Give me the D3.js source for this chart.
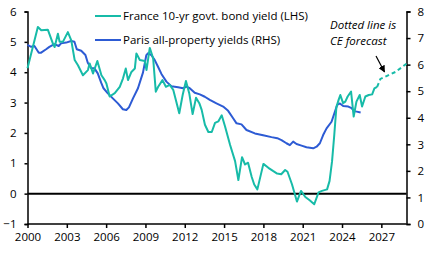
<!DOCTYPE html>
<html lang="en">
<head>
<meta charset="utf-8">
<script src="https://cdn.jsdelivr.net/npm/d3@7"></script>
<style>
    body { margin: 0; background: #fff; }
    svg text { font-family: "Open Sans", sans-serif; fill: #000; }
</style>
</head>
<body>
<script>

    // France 10-yr govt. bond yield, % (LHS)
    var bondYears = [2000.0, 2000.79, 2001.05, 2001.55, 2001.94, 2002.07, 2002.32, 2002.45, 2002.7, 2003.08,
        2003.34, 2003.6, 2003.85, 2004.23, 2004.61, 2004.74, 2005.0, 2005.33, 2005.64, 2005.89,
        2006.02, 2006.27, 2006.66, 2007.04, 2007.29, 2007.5, 2007.67, 2007.93, 2008.19, 2008.31,
        2008.57, 2008.95, 2009.08, 2009.33, 2009.59, 2009.79, 2009.97, 2010.3, 2010.56, 2010.86,
        2011.12, 2011.58, 2011.84, 2012.09, 2012.34, 2012.6, 2012.86, 2013.11, 2013.29, 2013.54,
        2013.8, 2014.06, 2014.31, 2014.56, 2014.82, 2015.07, 2015.46, 2015.84, 2016.09, 2016.37,
        2016.6, 2016.83, 2017.11, 2017.3, 2017.54, 2018.0, 2018.38, 2018.76, 2019.05, 2019.36,
        2019.66, 2019.84, 2020.18, 2020.56, 2020.87, 2021.2, 2021.53, 2021.88, 2022.21, 2022.47,
        2022.86, 2023.05, 2023.24, 2023.41, 2023.57, 2023.74, 2023.87, 2024.08, 2024.25, 2024.43,
        2024.69, 2024.89, 2025.1, 2025.35, 2025.53, 2025.78, 2026.04, 2026.3, 2026.47, 2026.68];
    var bondYield = [4.13, 5.49, 5.38, 5.40, 4.94, 4.83, 5.27, 5.00, 5.00, 5.32,
        5.05, 4.40, 4.23, 3.90, 4.07, 4.29, 3.96, 4.37, 3.90, 3.74,
        3.63, 3.20, 3.31, 3.52, 3.80, 4.12, 3.74, 4.01, 4.12, 4.62,
        4.40, 4.37, 4.07, 4.80, 4.45, 3.36, 3.52, 3.74, 3.52, 3.58,
        3.42, 2.65, 3.25, 3.71, 3.31, 2.62, 3.16, 2.98, 2.76, 2.27,
        2.03, 2.03, 2.33, 2.38, 2.58, 2.22, 1.60, 1.07, 0.45, 1.20,
        0.96, 1.02, 0.55, 0.30, 0.14, 0.98, 0.85, 0.74, 0.66, 0.64,
        0.78, 0.72, 0.31, -0.26, 0.09, -0.11, -0.22, -0.35, 0.04, 0.09,
        0.14, 0.42, 1.07, 1.94, 2.85, 3.09, 3.25, 2.98, 3.03, 3.20,
        3.36, 2.54, 3.03, 3.25, 2.87, 3.20, 3.25, 3.27, 3.47, 3.52];

    // CE forecast (dotted)
    var fcstYears = [2026.68, 2026.93, 2027.44, 2028.08, 2028.92];
    var fcstYield = [3.52, 3.78, 3.88, 4.01, 4.28];

    // Paris all-property yields, % (RHS)
    var parisYears = [2000.0, 2000.28, 2000.53, 2000.86, 2001.04, 2001.42, 2001.67, 2002.05, 2002.38, 2002.56,
        2002.95, 2003.33, 2003.58, 2003.76, 2004.1, 2004.42, 2004.6, 2004.86, 2005.11, 2005.36,
        2005.62, 2005.8, 2006.13, 2006.51, 2006.9, 2007.28, 2007.54, 2007.74, 2008.05, 2008.43,
        2008.81, 2009.07, 2009.2, 2009.45, 2009.71, 2009.96, 2010.22, 2010.6, 2010.98, 2011.49,
        2011.87, 2012.13, 2012.38, 2012.76, 2013.15, 2013.53, 2013.91, 2014.42, 2014.93, 2015.31,
        2015.69, 2015.95, 2016.33, 2016.71, 2017.35, 2017.98, 2018.62, 2019.06, 2019.38, 2019.76,
        2020.02, 2020.27, 2020.53, 2020.91, 2021.29, 2021.8, 2022.06, 2022.31, 2022.56, 2022.82,
        2023.2, 2023.46, 2023.63, 2023.84, 2024.09, 2024.48, 2024.73, 2024.91, 2025.12, 2025.42];
    var parisYield = [6.74, 6.67, 6.70, 6.45, 6.45, 6.58, 6.67, 6.77, 6.70, 6.80,
        6.83, 6.89, 6.86, 6.58, 6.52, 6.36, 6.07, 5.86, 5.86, 5.67,
        5.32, 5.11, 4.92, 4.73, 4.54, 4.32, 4.29, 4.39, 4.73, 5.11,
        5.70, 6.36, 6.43, 6.36, 6.17, 5.92, 5.65, 5.36, 5.19, 5.15,
        5.11, 5.17, 5.11, 4.94, 4.88, 4.79, 4.67, 4.54, 4.42, 4.26,
        3.98, 3.79, 3.75, 3.54, 3.41, 3.34, 3.27, 3.23, 3.16, 3.04,
        2.97, 3.10, 3.01, 2.95, 2.89, 2.85, 2.91, 3.04, 3.35, 3.60,
        3.85, 4.23, 4.48, 4.54, 4.44, 4.42, 4.36, 4.25, 4.23, 4.20];

    var xTicks = [2000, 2003, 2006, 2009, 2012, 2015, 2018, 2021, 2024, 2027];
    var leftTicks = [-1, 0, 1, 2, 3, 4, 5, 6];
    var rightTicks = [0, 1, 2, 3, 4, 5, 6, 7, 8];

    var legendNames = ["France 10-yr govt. bond yield (LHS)", "Paris all-property yields (RHS)"];
    var noteLines = ["Dotted line is", "CE forecast"];

    var teal = "#17bba8",
        blue = "#2d5bd4";

    var width = 433,
        height = 254,
        plotLeft = 27.5,
        plotRight = 406.5,
        plotTop = 11.5,
        plotBottom = 224;

    var svg = d3.select("body").append("svg")
            .attr("width", width)
            .attr("height", height);

    svg.append("defs").append("marker")
            .attr("id", "arrow")
            .attr("viewBox", "0 0 10 10")
            .attr("refX", 9)
            .attr("refY", 5)
            .attr("markerWidth", 7)
            .attr("markerHeight", 7)
            .attr("markerUnits", "userSpaceOnUse")
            .attr("orient", "auto")
        .append("path")
            .attr("d", "M0,0 L10,5 L0,10 z")
            .style("fill", "#000");

    var x = d3.scaleLinear().domain([2000, 2028.92]).range([plotLeft, plotRight]);
    var yL = d3.scaleLinear().domain([-1, 6]).range([plotBottom, plotTop]);
    var yR = d3.scaleLinear().domain([0, 8]).range([plotBottom, plotTop]);

    /*
    zero line
     */
    svg.append("line")
            .attr("x1", plotLeft)
            .attr("x2", plotRight)
            .attr("y1", yL(0))
            .attr("y2", yL(0))
            .style("stroke", "#000")
            .style("stroke-width", 2);

    /*
    axes
     */
    var gLeft = svg.append("g")
            .attr("transform", "translate(" + plotLeft + ",0)")
            .call(d3.axisLeft(yL).tickValues(leftTicks).tickFormat(d3.format("d"))
                .tickSizeInner(3).tickSizeOuter(3).tickPadding(8));

    var gRight = svg.append("g")
            .attr("transform", "translate(" + plotRight + ",0)")
            .call(d3.axisRight(yR).tickValues(rightTicks).tickFormat(d3.format("d"))
                .tickSizeInner(4).tickSizeOuter(4).tickPadding(7));

    var gBottom = svg.append("g")
            .attr("transform", "translate(0," + plotBottom + ")")
            .call(d3.axisBottom(x).tickValues(xTicks).tickFormat(d3.format("d"))
                .tickSizeInner(4).tickSizeOuter(0).tickPadding(5));

    [gLeft, gRight, gBottom].forEach(function(g){
        g.selectAll("path, line").style("stroke", "#000").style("stroke-width", 1.5);
        g.selectAll("text").style("font-size", "11.5px").style("fill", "#000");
        g.select(".domain").style("fill", "none");
    });
    gBottom.select(".domain").attr("d", "M" + plotLeft + ",0H" + plotRight);

    /*
    series
     */
    var lineL = d3.line()
            .x(function(d){ return x(d[0]); })
            .y(function(d){ return yL(d[1]); });
    var lineR = d3.line()
            .x(function(d){ return x(d[0]); })
            .y(function(d){ return yR(d[1]); });

    svg.append("path")
            .datum(d3.zip(parisYears, parisYield))
            .attr("d", lineR)
            .style("fill", "none")
            .style("stroke", blue)
            .style("stroke-width", 2)
            .style("stroke-linejoin", "round");

    svg.append("path")
            .datum(d3.zip(bondYears, bondYield))
            .attr("d", lineL)
            .style("fill", "none")
            .style("stroke", teal)
            .style("stroke-width", 2)
            .style("stroke-linejoin", "round");

    svg.append("path")
            .datum(d3.zip(fcstYears, fcstYield))
            .attr("d", lineL)
            .style("fill", "none")
            .style("stroke", teal)
            .style("stroke-width", 2)
            .style("stroke-dasharray", "4,3");

    /*
    legend
     */
    var legend = svg.selectAll(".legend")
            .data(legendNames)
            .enter()
            .append("g")
            .attr("class", "legend")
            .attr("transform", function(d, i){ return "translate(95," + (16 + i * 24) + ")"; });

    legend.append("line")
            .attr("x1", 0)
            .attr("x2", 26)
            .style("stroke", function(d, i){ return i === 0 ? teal : blue; })
            .style("stroke-width", 2);

    legend.append("text")
            .attr("x", 28)
            .attr("dy", "0.35em")
            .style("font-size", "11.5px")
            .text(function(d){ return d; });

    /*
    annotation
     */
    svg.selectAll(".note")
            .data(noteLines)
            .enter()
            .append("text")
            .attr("class", "note")
            .attr("x", 330)
            .attr("y", function(d, i){ return 29 + i * 15.5; })
            .style("font-size", "11.5px")
            .style("font-style", "italic")
            .text(function(d){ return d; });

    svg.append("line")
            .attr("x1", 376)
            .attr("y1", 56)
            .attr("x2", 384.5)
            .attr("y2", 72)
            .style("stroke", "#000")
            .style("stroke-width", 1.2)
            .attr("marker-end", "url(#arrow)");

</script>
</body>
</html>
